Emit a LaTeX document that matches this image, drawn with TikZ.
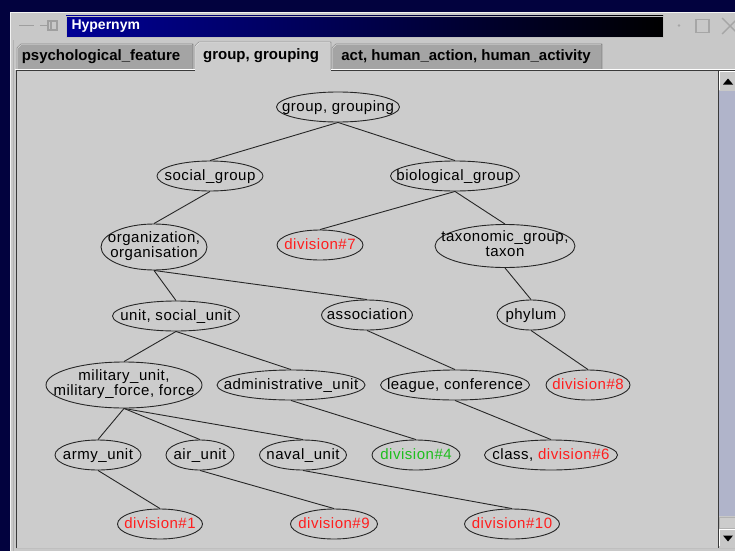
\documentclass[tikz,border=0pt]{standalone}
\usepackage{fontspec}
\setmainfont{Liberation Sans}
\newfontfamily\lblfont[LetterSpace=3.5]{Liberation Sans}
\usetikzlibrary{shapes.geometric}
\definecolor{deskblue}{RGB}{2,2,62}
\definecolor{wingray}{RGB}{200,200,200}
\definecolor{panelgray}{RGB}{204,204,204}
\definecolor{tabgray}{RGB}{164,164,164}
\definecolor{titleblue}{RGB}{0,0,150}
\definecolor{trackblue}{RGB}{176,180,202}
\definecolor{hitred}{RGB}{255,30,30}
\definecolor{hitgreen}{RGB}{30,190,30}
\newcommand{\tx}[1]{\makebox[0pt]{\rule[-3pt]{0pt}{15pt}#1}}
\newcommand{\tl}[2]{\makebox[0pt]{\begin{tabular}{@{}c@{}}#1\\#2\end{tabular}}}
\begin{document}
\begin{tikzpicture}[x=1pt,y=-1pt,
  ell/.style={draw=black!85,ellipse,inner sep=0pt,minimum height=30,line width=0.9pt,
    font=\lblfont\fontsize{15}{15}\selectfont},
  edge/.style={black!85,line width=0.9pt},
  tabtext/.style={font=\bfseries\fontsize{15}{15}\selectfont}]
\useasboundingbox (0,0) rectangle (735,551);
\fill[deskblue] (0,0) rectangle (735,551);
\fill[wingray] (10,12) rectangle (735,551);
\draw[white!90!gray] (10.5,551)--(10.5,12.5)--(735,12.5);
\draw[gray!60] (13.5,551)--(13.5,40);

\shade[left color=titleblue,right color=black] (66,16) rectangle (663,37);
\draw[gray!50] (66,16) rectangle (663,37);
\node[anchor=west,text=white,font=\bfseries\fontsize{14}{14}\selectfont] (Title) at (68,26.5){Hypernym};
\draw[gray!75,line width=1.6pt] (19,25.5)--(34,25.5);
\draw[gray!75,line width=1.6pt] (40,25.5)--(48,25.5);
\draw[gray!75,line width=1.2pt] (48,21) rectangle (57,30);
\draw[gray!75,line width=1.2pt] (51,21)--(51,30);
\fill[gray!70] (679,25.5) circle (1.4);
\draw[gray!70,line width=1.2pt] (696,19.5) rectangle (709,32.5);
\draw[gray!70,line width=1.4pt] (722,18)--(738,34) (722,34)--(738,18);

\filldraw[fill=tabgray,draw=gray!45!black] (17,69)--(17,48)--(21,44)--(193,44)--(193,69);
\draw[white] (17.5,69)--(17.5,48)--(21,44.5)--(192,44.5);
\node[tabtext] (TabA) at (101,56.5){psychological\_feature};
\filldraw[fill=tabgray,draw=gray!45!black] (332,69)--(332,48)--(336,44)--(602,44)--(602,69);
\draw[white] (332.5,69)--(332.5,48)--(336,44.5)--(601,44.5);
\node[tabtext] (TabC) at (466,56.5){act, human\_action, human\_activity};
\filldraw[fill=panelgray,draw=gray!45!black] (195,70)--(195,46)--(199,42)--(331,42)--(331,70);
\draw[white] (195.5,70)--(195.5,46)--(199,42.5)--(330,42.5);
\node[tabtext] (TabB) at (261,56){group, grouping};

\fill[panelgray] (16,70) rectangle (718,548);
\draw[white] (15,69.5)--(195,69.5) (331,69.5)--(735,69.5);
\draw[gray!45!black] (16.5,548)--(16.5,70.5)--(195,70.5) (331,70.5)--(735,70.5);
\draw[gray!50] (16,548.5)--(735,548.5);

\fill[trackblue] (719,91) rectangle (735,516);
\fill[wingray] (719,71) rectangle (735,90);
\draw[white] (719.5,90)--(719.5,71.5)--(735,71.5);
\fill[black] (723,84.5)--(733,84.5)--(728,78.5)--cycle;
\fill[panelgray] (719,517) rectangle (735,528);
\draw[gray!60] (719,517) rectangle (735,528);
\fill[wingray] (719,529) rectangle (735,546);
\draw[white] (719.5,546)--(719.5,529.5)--(735,529.5);
\fill[black] (723,535.5)--(733,535.5)--(728,541.5)--cycle;
\draw[gray!45!black] (718.5,71)--(718.5,548);

\node (Group) at (338,107) [ell,minimum width=123]{\tx{group, grouping}};
\node (Social) at (210,176) [ell,minimum width=106]{\tx{social\_group}};
\node (Bio) at (455,176) [ell,minimum width=129]{\tx{biological\_group}};
\node (Org) at (154,247) [ell,minimum width=106,minimum height=46]{\tl{organization,}{organisation}};
\node (D7) at (320,245) [ell,minimum width=86,text=hitred]{\tx{division\#7}};
\node (Taxon) at (505,246) [ell,minimum width=140,minimum height=43]{\tl{taxonomic\_group,}{taxon}};
\node (Unit) at (176,316) [ell,minimum width=127]{\tx{unit, social\_unit}};
\node (Assoc) at (367,315) [ell,minimum width=91]{\tx{association}};
\node (Phylum) at (531,315) [ell,minimum width=68]{\tx{phylum}};
\node (Mil) at (124,385) [ell,minimum width=156,minimum height=46]{\tl{military\_unit,}{military\_force, force}};
\node (Admin) at (291,385) [ell,minimum width=148]{\tx{administrative\_unit}};
\node (League) at (455,385) [ell,minimum width=149]{\tx{league, conference}};
\node (D8) at (588,385) [ell,minimum width=84,text=hitred]{\tx{division\#8}};
\node (Army) at (98,455) [ell,minimum width=86]{\tx{army\_unit}};
\node (Air) at (200,455) [ell,minimum width=68]{\tx{air\_unit}};
\node (Naval) at (303,455) [ell,minimum width=87]{\tx{naval\_unit}};
\node (D4) at (416,455) [ell,minimum width=88,text=hitgreen]{\tx{division\#4}};
\node (Class) at (551,455) [ell,minimum width=133]{\tx{class, \textcolor{hitred}{division\#6}}};
\node (D1) at (160,524) [ell,minimum width=85,text=hitred]{\tx{division\#1}};
\node (D9) at (334,524) [ell,minimum width=87,text=hitred]{\tx{division\#9}};
\node (D10) at (512,524) [ell,minimum width=95,text=hitred]{\tx{division\#10}};

\draw[edge] (Group.south)--(Social.north);
\draw[edge] (Group.south)--(Bio.north);
\draw[edge] (Social.south)--(Org.north);
\draw[edge] (Bio.south)--(D7.north);
\draw[edge] (Bio.south)--(Taxon.north);
\draw[edge] (Org.south)--(Unit.north);
\draw[edge] (Org.south)--(Assoc.north);
\draw[edge] (Taxon.south)--(Phylum.north);
\draw[edge] (Unit.south)--(Mil.north);
\draw[edge] (Unit.south)--(Admin.north);
\draw[edge] (Assoc.south)--(League.north);
\draw[edge] (Phylum.south)--(D8.north);
\draw[edge] (Mil.south)--(Army.north);
\draw[edge] (Mil.south)--(Air.north);
\draw[edge] (Mil.south)--(Naval.north);
\draw[edge] (Admin.south)--(D4.north);
\draw[edge] (League.south)--(Class.north);
\draw[edge] (Army.south)--(D1.north);
\draw[edge] (Air.south)--(D9.north);
\draw[edge] (Naval.south)--(D10.north);
\end{tikzpicture}
\end{document}
